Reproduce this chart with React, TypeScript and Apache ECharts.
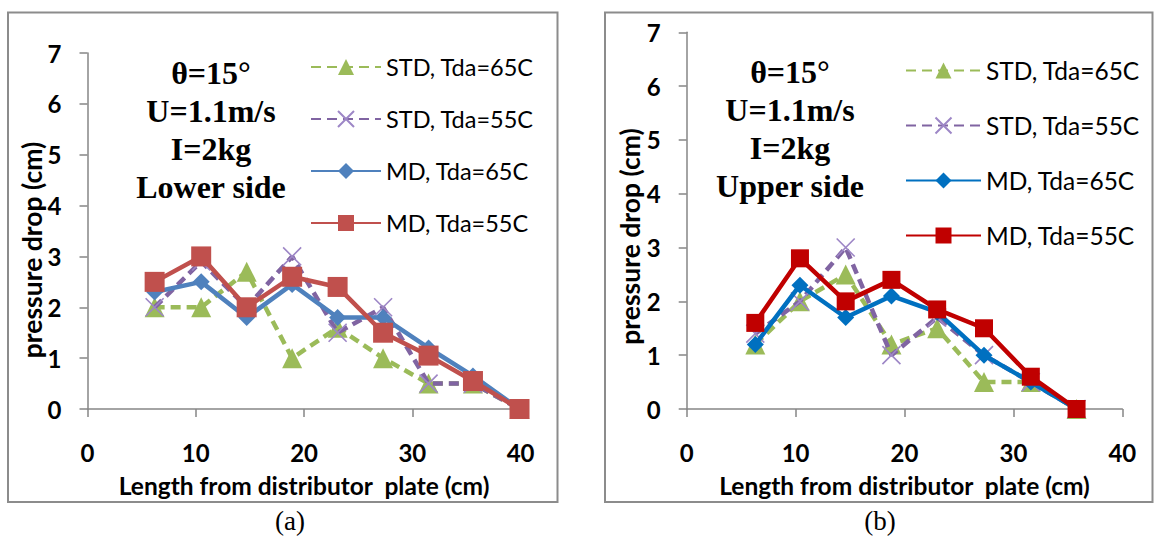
import React, { useEffect, useRef } from 'react';
import * as echarts from 'echarts';

// ---- data ----
const seriesNames = ['STD, Tda=65C', 'STD, Tda=55C', 'MD, Tda=65C', 'MD, Tda=55C'];

// panel (a) lower side
const xA = [6.2, 10.5, 14.7, 18.9, 23.1, 27.3, 31.5, 35.6, 39.9];
const stdA65 = [2.0, 2.0, 2.7, 1.0, 1.6, 1.0, 0.5, 0.5, 0];
const stdA55 = [2.0, 2.9, 2.0, 3.0, 1.5, 2.0, 0.5, 0.5, 0];
const mdA65 = [2.3, 2.5, 1.8, 2.45, 1.8, 1.8, 1.2, 0.65, 0];
const mdA55 = [2.5, 3.0, 2.0, 2.6, 2.4, 1.5, 1.05, 0.55, 0];

// panel (b) upper side
const xB = [6.3, 10.4, 14.6, 18.8, 23.0, 27.3, 31.6, 35.8];
const stdB65 = [1.2, 2.0, 2.5, 1.2, 1.5, 0.5, 0.5, 0];
const stdB55 = [1.4, 2.0, 3.0, 1.0, 1.7, 1.0, 0.5, 0];
const mdB65 = [1.2, 2.3, 1.7, 2.1, 1.8, 1.0, 0.5, 0];
const mdB55 = [1.6, 2.8, 2.0, 2.4, 1.85, 1.5, 0.6, 0];

const annotationA = ['θ=15°', 'U=1.1m/s', 'I=2kg', 'Lower side'];
const annotationB = ['θ=15°', 'U=1.1m/s', 'I=2kg', 'Upper side'];
const xTitle = 'Length from distributor  plate (cm)';
const yTitle = 'pressure drop (cm)';

const colorsA = ['#9BBB59', '#8064A2', '#4F81BD', '#C0504D'];
const colorsB = ['#9BBB59', '#8064A2', '#0070C0', '#C00000'];

const AXIS_COLOR = '#868686';
const SANS = 'Lato';
const SERIF = '"Liberation Serif", "Times New Roman", serif';

interface PanelCfg {
  xs: number[];
  values: number[][];
  colors: string[];
  label: string;
  labelX: number;
  frame: { x: number; y: number; w: number; h: number };
  grid: { left: number; right: number; top: number; bottom: number };
  yTitlePos: { x: number; y: number };
  annot: string[];
  annotPos: { x: number; y: number };
  legend: { left: number; top: number; itemWidth: number; itemGap: number; fontSize: number };
  sizes: number[];
}

function buildOption(c: PanelCfg) {
  const symbols = ['triangle', 'path://M0,0L10,10M10,0L0,10', 'diamond', 'rect'];
  const series = c.values.map((vals, i) => {
    const dashed = i < 2;
    const isX = i === 1;
    return {
      name: seriesNames[i],
      type: 'line',
      data: c.xs.map((x, k) => [x, vals[k]]),
      symbol: symbols[i],
      symbolSize: c.sizes[i],
      z: 2 + i,
      lineStyle: {
        color: c.colors[i],
        width: 4.5,
        type: dashed ? [10, 6] : 'solid',
      },
      itemStyle: isX
        ? { color: c.colors[i], borderColor: '#9d86c6', borderWidth: 1.6 }
        : { color: c.colors[i], borderWidth: 0 },
      emphasis: { disabled: true },
    };
  });
  const axisLine = { show: true, lineStyle: { color: AXIS_COLOR, width: 1.5 } };
  const axisTick = { show: true, length: 8, lineStyle: { color: AXIS_COLOR, width: 1.5 } };
  return {
    animation: false,
    grid: { ...c.grid, containLabel: false },
    xAxis: {
      type: 'value',
      min: 0,
      max: 40,
      interval: 10,
      axisLine: { ...axisLine, onZero: false },
      axisTick,
      splitLine: { show: false },
      axisLabel: { color: '#000', fontFamily: SANS, fontWeight: 'bold', fontSize: 24, margin: 31 },
      name: xTitle,
      nameLocation: 'middle',
      nameGap: 64,
      nameTextStyle: { color: '#000', fontFamily: SANS, fontWeight: 'bold', fontSize: 24.5 },
    },
    yAxis: {
      type: 'value',
      min: 0,
      max: 7,
      interval: 1,
      axisLine,
      axisTick,
      splitLine: { show: false },
      axisLabel: { color: '#000', fontFamily: SANS, fontWeight: 'bold', fontSize: 24, margin: 26 },
    },
    legend: {
      orient: 'vertical',
      left: c.legend.left,
      top: c.legend.top,
      padding: 0,
      itemWidth: c.legend.itemWidth,
      itemHeight: 20,
      itemGap: c.legend.itemGap,
      selectedMode: false,
      data: seriesNames,
      textStyle: { color: '#000', fontFamily: SANS, fontSize: c.legend.fontSize, lineHeight: 20 },
    },
    graphic: [
      {
        type: 'rect',
        silent: true,
        z: -1,
        shape: { x: c.frame.x, y: c.frame.y, width: c.frame.w, height: c.frame.h },
        style: { fill: 'none', stroke: '#8c8c8c', lineWidth: 2 },
      },
      {
        type: 'text',
        x: c.labelX,
        y: 521,
        style: { text: c.label, fontFamily: SERIF, fontSize: 27, fill: '#000', align: 'center', verticalAlign: 'middle' },
      },
      {
        type: 'text',
        x: c.yTitlePos.x,
        y: c.yTitlePos.y,
        rotation: Math.PI / 2,
        style: {
          text: yTitle,
          fontFamily: SANS,
          fontWeight: 'bold',
          fontSize: 26.5,
          fill: '#000',
          align: 'center',
          verticalAlign: 'middle',
        },
      },
      {
        type: 'text',
        x: c.annotPos.x,
        y: c.annotPos.y,
        style: {
          text: c.annot.join('\n'),
          fontFamily: SERIF,
          fontWeight: 'bold',
          fontSize: 32,
          lineHeight: 38,
          fill: '#000',
          align: 'center',
          verticalAlign: 'top',
        },
      },
    ],
    series,
  };
}

const cfgA: PanelCfg = {
  xs: xA,
  values: [stdA65, stdA55, mdA65, mdA55],
  colors: colorsA,
  label: '(a)',
  labelX: 290,
  frame: { x: 8, y: 12.5, w: 549.5, h: 489.5 },
  grid: { left: 87.5, right: 56.4, top: 53, bottom: 127 },
  yTitlePos: { x: 31.5, y: 250 },
  annot: annotationA,
  annotPos: { x: 211, y: 54 },
  legend: { left: 310, top: 55, itemWidth: 70, itemGap: 28, fontSize: 23.5 },
  sizes: [20, 18, 17, 20],
};

const cfgB: PanelCfg = {
  xs: xB,
  values: [stdB65, stdB55, mdB65, mdB55],
  colors: colorsB,
  label: '(b)',
  labelX: 303,
  frame: { x: 28, y: 12.5, w: 547.5, h: 489.5 },
  grid: { left: 109.7, right: 31.7, top: 32.3, bottom: 127 },
  yTitlePos: { x: 52.5, y: 236.5 },
  annot: annotationB,
  annotPos: { x: 213, y: 53 },
  legend: { left: 328, top: 58, itemWidth: 75, itemGap: 30, fontSize: 24.5 },
  sizes: [20, 18, 17, 18],
};

function Panel({ cfg, left }: { cfg: PanelCfg; left: number }) {
  const ref = useRef<HTMLDivElement>(null);
  useEffect(() => {
    if (!ref.current) return;
    const chart = echarts.init(ref.current, undefined, { renderer: 'svg' });
    chart.setOption(buildOption(cfg) as any);
    return () => chart.dispose();
  }, [cfg]);
  return (
    <div
      ref={ref}
      style={{ position: 'absolute', left, top: 0, width: 577, height: 536 }}
    />
  );
}

export default function App() {
  return (
    <div
      style={{
        position: 'fixed',
        left: 0,
        top: 0,
        width: 1154,
        height: 536,
        background: '#fff',
        overflow: 'hidden',
      }}
    >
      <Panel cfg={cfgA} left={0} />
      <Panel cfg={cfgB} left={577} />
    </div>
  );
}
